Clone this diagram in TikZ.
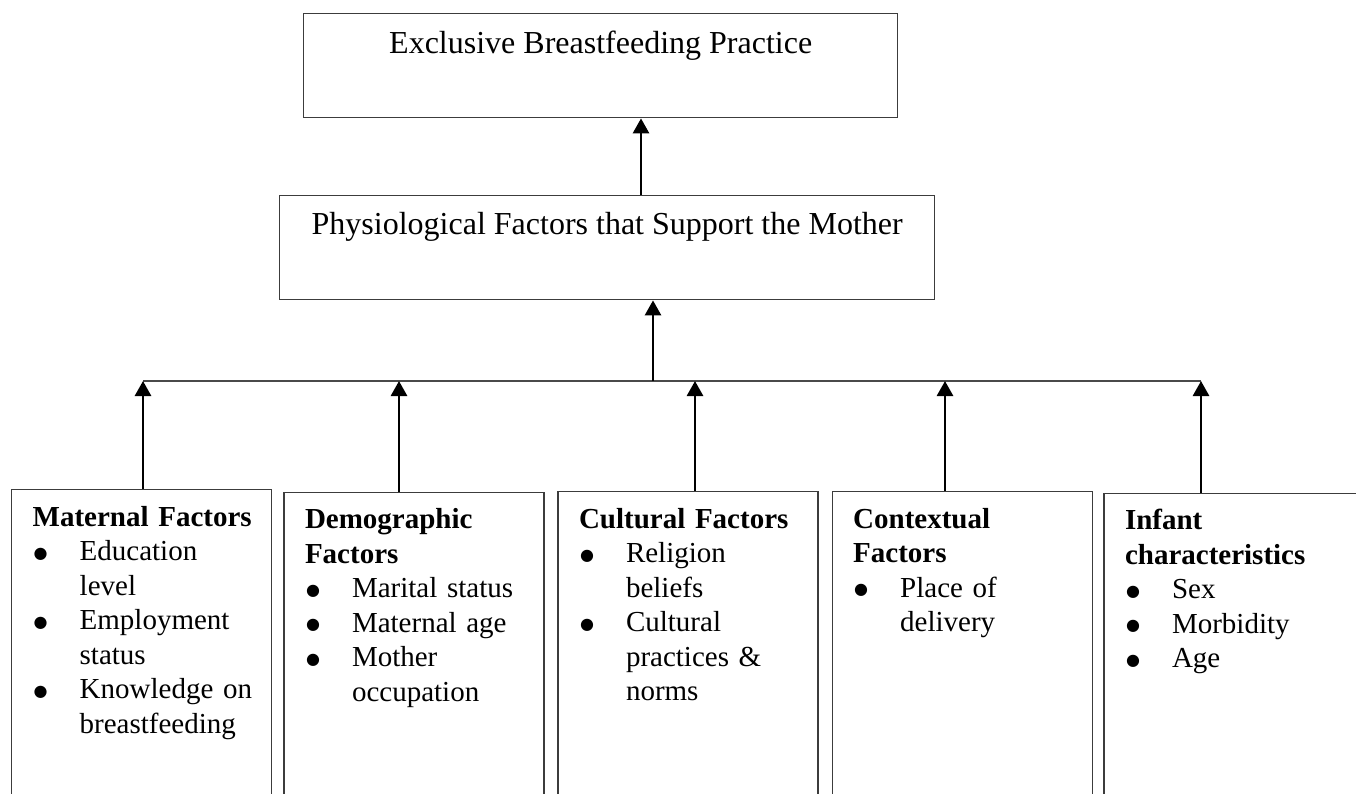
\documentclass[tikz,border=0pt]{standalone}
\usepackage{fontspec}
\setmainfont{Liberation Serif}
\newfontfamily\symfont{DejaVu Sans}
\usetikzlibrary{arrows.meta}
\definecolor{edgegray}{HTML}{3C3C3C}
\definecolor{linegray}{HTML}{4A4A4A}
\newcommand{\bulletglyph}{\raisebox{2.5pt}{\symfont\fontsize{16}{16}\selectfont ●}}
\newcommand{\bitem}[1]{\mbox{\makebox[47pt][l]{\hspace{1pt}\bulletglyph}#1}}
\newcommand{\bcont}[1]{\mbox{\hspace*{47pt}#1}}
\newcommand{\btitle}[1]{\mbox{\textbf{#1}}}
\begin{document}
\begin{tikzpicture}[x=1pt,y=-1pt,
  topbox/.style={draw=edgegray, line width=1.4pt, rectangle, inner sep=0pt,
    font=\fontsize{32}{38}\selectfont, anchor=north west},
  factorbox/.style={draw=edgegray, line width=1.4pt, rectangle, anchor=north west,
    minimum width=260pt, minimum height=400pt, inner xsep=21pt, inner ysep=0pt,
    text width=218pt, align=left, text height=36.5pt, text depth=363.5pt,
    font=\fontsize{29}{34.5}\selectfont},
  arr/.style={line width=2.8pt, -{Triangle[width=16pt,length=15pt]}},
  hub/.style={line width=1.5pt, draw=linegray}
]
\useasboundingbox (0,0) rectangle (1356,794);
\clip (0,0) rectangle (1356,794);

% top boxes
\node[topbox, minimum width=594pt, minimum height=104pt, text height=40.3pt, text depth=63.7pt] (ebp) at (303,13) {Exclusive Breastfeeding Practice};
\node[topbox, minimum width=655pt, minimum height=104pt, text height=39pt, text depth=65pt] (phys) at (279,195) {Physiological Factors that Support the Mother};

% factor boxes
\node[factorbox] (bma) at (11,489) {\btitle{Maternal Factors}\\
  \bitem{Education}\\ \bcont{level}\\
  \bitem{Employment}\\ \bcont{status}\\
  \bitem{Knowledge on}\\ \bcont{breastfeeding}};
\node[factorbox] (bde) at (283.3,491.5) {\btitle{Demographic}\\ \btitle{Factors}\\
  \bitem{Marital status}\\
  \bitem{Maternal age}\\
  \bitem{Mother}\\ \bcont{occupation}};
\node[factorbox] (bcu) at (557.3,491) {\btitle{Cultural Factors}\\
  \bitem{Religion}\\ \bcont{beliefs}\\
  \bitem{Cultural}\\ \bcont{practices \&}\\ \bcont{norms}};
\node[factorbox] (bco) at (831.5,491) {\btitle{Contextual}\\ \btitle{Factors}\\
  \bitem{Place of}\\ \bcont{delivery}};
\node[factorbox, minimum width=300pt, text width=258pt] (bin) at (1103.3,492.7) {\btitle{Infant}\\ \btitle{characteristics}\\
  \bitem{Sex}\\
  \bitem{Morbidity}\\
  \bitem{Age}};

% hub coordinates on the horizontal line
\coordinate (ha) at (143,381);
\coordinate (hb) at (399,381);
\coordinate (hm) at (653,381);
\coordinate (hc) at (695,381);
\coordinate (hd) at (945,381);
\coordinate (he) at (1201,381);
\coordinate (tc) at (641,0);

% connectors
\draw[hub] (ha) -- (he);
\draw[arr] (ha |- bma.north) -- (ha);
\draw[arr] (hb |- bde.north) -- (hb);
\draw[arr] (hc |- bcu.north) -- (hc);
\draw[arr] (hd |- bco.north) -- (hd);
\draw[arr] (he |- bin.north) -- (he);
\draw[arr] (hm) -- (hm |- phys.south);
\draw[arr] (tc |- phys.north) -- (tc |- ebp.south);
\end{tikzpicture}
\end{document}
